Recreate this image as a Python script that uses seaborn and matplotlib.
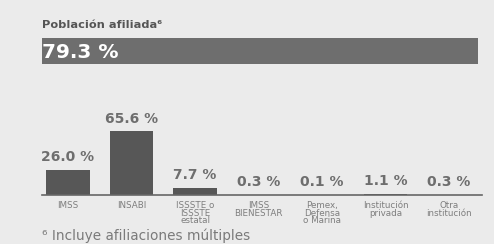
import matplotlib
matplotlib.use("Agg")
import matplotlib.pyplot as plt
import seaborn as sns
import pandas as pd

# datos
categorias = ["IMSS", "INSABI", "ISSSTE o\nISSSTE\nestatal", "IMSS\nBIENESTAR",
              "Pemex,\nDefensa\no Marina", "Institución\nprivada", "Otra\ninstitución"]
valores = [26.0, 65.6, 7.7, 0.3, 0.1, 1.1, 0.3]
afiliada = 79.3
titulo = "Población afiliada⁶"
nota = "⁶ Incluye afiliaciones múltiples"

df = pd.DataFrame({"cat": categorias, "val": valores})

sns.set_style("white")
plt.rcParams["font.family"] = ["DejaVu Sans"]

fondo = "#ebebeb"
W, H = 494, 244
fig = plt.figure(figsize=(W / 100, H / 100), dpi=100, facecolor=fondo)

# barra de población afiliada
ax0 = fig.add_axes([42 / W, 180 / H, 436 / W, 26 / H])
ax0.barh([0], [afiliada], height=1, color="#6e6e6e", left=0, linewidth=0)
ax0.set_xlim(0, afiliada)
ax0.set_ylim(-0.5, 0.5)
ax0.axis("off")
ax0.text(0.005, 0.08, f"{afiliada:.1f} %", transform=ax0.get_xaxis_transform(),
         color="white", fontsize=14.5, fontweight="bold", va="bottom", ha="left")
fig.text(42 / W, 1 - 28 / H, titulo, color="#555555", fontsize=8.2,
         fontweight="bold", ha="left", va="baseline")

# barras por institución
ax = fig.add_axes([42 / W, 49 / H, 440 / W, 80 / H])
ax.set_facecolor(fondo)
sns.barplot(data=df, x="cat", y="val", color="#575757", width=0.68,
            saturation=1, linewidth=0, ax=ax)
ax.set_xlim(-0.41, 6.52)
ax.set_ylim(0, 82.5)
for i, v in enumerate(valores):
    ax.text(i, v + 6, f"{v:.1f} %", ha="center", va="bottom",
            color="#6e6e6e", fontsize=10, fontweight="bold")
ax.set_xlabel("")
ax.set_ylabel("")
ax.set_yticks([])
ax.tick_params(axis="x", length=0, pad=4, labelsize=6.3, labelcolor="#7e7e7e")
for t in ax.get_xticklabels():
    t.set_linespacing(0.85)
for s in ["top", "right", "left"]:
    ax.spines[s].set_visible(False)
ax.spines["bottom"].set_color("#666666")
ax.spines["bottom"].set_linewidth(1.2)

fig.text(42 / W, 1 - 240 / H, nota, color="#7a7a7a", fontsize=9.8,
         ha="left", va="baseline")

fig.savefig("out.png", dpi=100, facecolor=fondo)
